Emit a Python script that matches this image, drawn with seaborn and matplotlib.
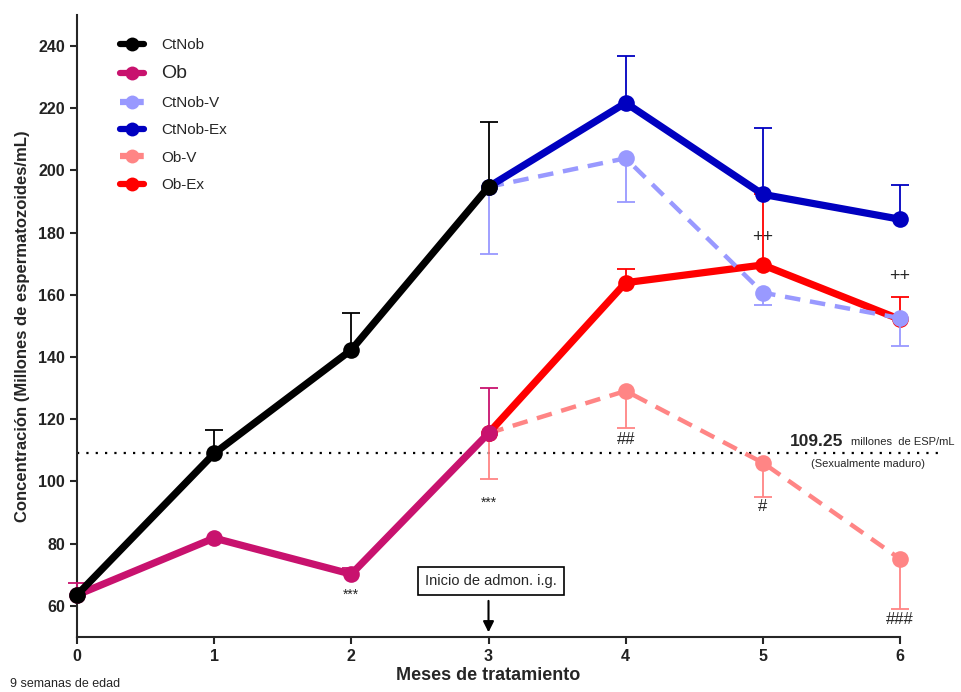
import numpy as np
import pandas as pd
import matplotlib
matplotlib.use("Agg")
import matplotlib.pyplot as plt
from matplotlib.lines import Line2D
import seaborn as sns

# data (millones de espermatozoides/mL)
meses_pre = [0, 1, 2, 3]
meses_post = [3, 4, 5, 6]

ctnob = [63.5, 109.0, 142.3, 194.7]
ctnob_err = [0.0, 7.4, 11.8, 21.0]
ob = [63.5, 81.8, 70.2, 115.5]
ob_err = [4.0, 0.0, 2.0, 14.6]

ctnob_v = [194.7, 203.9, 160.7, 152.5]
ctnob_v_err = [21.6, 14.0, 4.0, 9.0]
ctnob_ex = [194.7, 221.7, 192.3, 184.3]
ctnob_ex_err = [0.0, 15.1, 21.2, 10.9]
ob_v = [115.5, 129.1, 106.0, 75.1]
ob_v_err = [14.8, 11.8, 10.9, 16.0]
ob_ex = [115.5, 163.9, 169.6, 152.1]
ob_ex_err = [0.0, 4.3, 22.7, 7.3]

umbral = 109.25

colores = {"CtNob": "#000000", "Ob": "#C8126E", "CtNob-V": "#9999FF",
           "CtNob-Ex": "#0000C0", "Ob-V": "#FF8585", "Ob-Ex": "#FF0000"}

sns.set_style("ticks")
plt.rcParams["font.family"] = ["Liberation Sans", "DejaVu Sans"]

fig = plt.figure(figsize=(9.62, 6.92), dpi=100)
ax = fig.add_axes([0.080, 0.0795, 0.8556, 0.899])

# horizontal reference line
ax.plot([0, 6.28], [umbral, umbral], linestyle=(0, (1, 3.2)), color="black",
        linewidth=1.6, clip_on=False, zorder=1)

series = [
    ("Ob-V", meses_post, ob_v, ob_v_err, "down", "dash"),
    ("Ob-Ex", meses_post, ob_ex, ob_ex_err, "up", "solid"),
    ("CtNob-V", meses_post, ctnob_v, ctnob_v_err, "down", "dash"),
    ("CtNob-Ex", meses_post, ctnob_ex, ctnob_ex_err, "up", "solid"),
    ("Ob", meses_pre, ob, ob_err, "up", "solid"),
    ("CtNob", meses_pre, ctnob, ctnob_err, "up", "solid"),
]

for i, (nombre, xs, ys, err, lado, estilo) in enumerate(series):
    c = colores[nombre]
    z = 3 + i
    xs_a = np.array(xs, dtype=float)
    ys_a = np.array(ys)
    err = np.array(err)
    m = err > 0
    extremo = ys_a + err if lado == "up" else ys_a - err
    # one-sided error bars, cap only at the far end
    ax.vlines(xs_a[m], ys_a[m], extremo[m], color=c, linewidth=1.3, zorder=z,
              clip_on=False)
    ax.plot(xs_a[m], extremo[m], linestyle="none", marker="_", markersize=13,
            mew=1.3, color=c, zorder=z, clip_on=False)
    df = pd.DataFrame({"x": xs, "y": ys})
    if estilo == "dash":
        sns.lineplot(data=df, x="x", y="y", ax=ax, color=c, linewidth=3.2,
                     linestyle=(0, (3.5, 2.2)), marker="o", markersize=12,
                     mec=c, mew=0, zorder=z + 0.5, clip_on=False)
    else:
        sns.lineplot(data=df, x="x", y="y", ax=ax, color=c, linewidth=5.2,
                     marker="o", markersize=12, mec=c, mew=0,
                     zorder=z + 0.5, clip_on=False)

ax.set_xlim(0, 6)
ax.set_ylim(50, 250)
ax.set_xticks([0, 1, 2, 3, 4, 5, 6])
ax.set_yticks(np.arange(60, 241, 20))
sns.despine(ax=ax)
for s in ["left", "bottom"]:
    ax.spines[s].set_linewidth(1.5)
ax.tick_params(axis="both", width=1.5, length=5, labelsize=11.5)
for lab in ax.get_xticklabels() + ax.get_yticklabels():
    lab.set_fontweight("bold")
    lab.set_color("#222222")

ax.set_xlabel("Meses de tratamiento", fontsize=13, fontweight="bold", labelpad=2)
ax.set_ylabel("Concentración (Millones de espermatozoides/mL)", fontsize=12,
              fontweight="bold", labelpad=6)

# significance marks
ax.text(2, 63.5, "***", ha="center", va="center", fontsize=10, zorder=20)
ax.text(3, 93.2, "***", ha="center", va="center", fontsize=10, zorder=20)
ax.text(4, 113.5, "##", ha="center", va="center", fontsize=12)
ax.text(5, 92.0, "#", ha="center", va="center", fontsize=12)
ax.text(6, 55.5, "###", ha="center", va="center", fontsize=12)
ax.text(5, 178.5, "++", ha="center", va="center", fontsize=13)
ax.text(6, 166.0, "++", ha="center", va="center", fontsize=13)

# threshold label
ax.text(5.2, 112.8, "109.25", ha="left", va="center", fontsize=12.5,
        fontweight="bold", clip_on=False)
ax.text(5.64, 112.8, "millones  de ESP/mL", ha="left", va="center",
        fontsize=8, clip_on=False)
ax.text(5.77, 105.6, "(Sexualmente maduro)", ha="center", va="center",
        fontsize=8, clip_on=False)

# treatment start arrow
ax.annotate("", xy=(3, 50.6), xytext=(3, 62.5),
            arrowprops=dict(arrowstyle="-|>", color="black", lw=1.5,
                            mutation_scale=16))
ax.text(3.02, 68.0, "Inicio de admon. i.g.", ha="center", va="center",
        fontsize=10.5,
        bbox=dict(boxstyle="square,pad=0.5", fc="white", ec="black", lw=1.2))

fig.text(0.068, 0.012, "9 semanas de edad", ha="center", va="center", fontsize=9)

# legend
nombres = ["CtNob", "Ob", "CtNob-V", "CtNob-Ex", "Ob-V", "Ob-Ex"]
handles = []
for n in nombres:
    ls = (0, (1.5, 0.8)) if n.endswith("-V") else "-"
    handles.append(Line2D([], [], color=colores[n], linewidth=4.5, linestyle=ls,
                          marker="o", markersize=10, mec=colores[n], mew=0))
leg = ax.legend(handles, nombres, loc="upper left", bbox_to_anchor=(0.035, 0.985),
                frameon=False, fontsize=11, handlelength=1.6, handletextpad=1.1,
                labelspacing=0.88)
leg.get_texts()[1].set_fontsize(14)

fig.savefig("out.png", dpi=100)
